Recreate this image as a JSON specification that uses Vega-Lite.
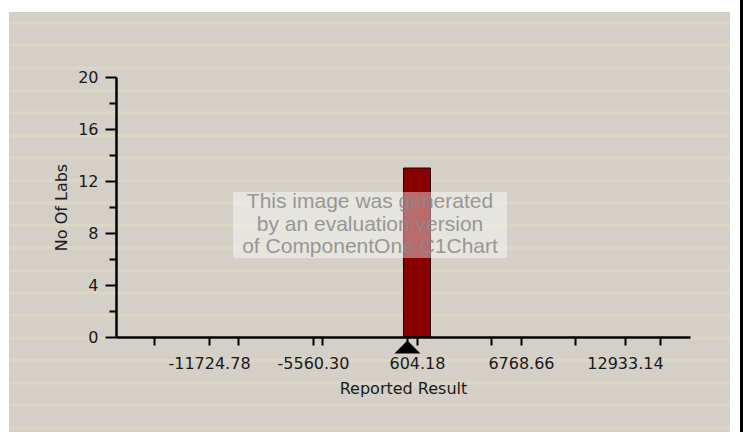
{
  "$schema": "https://vega.github.io/schema/vega-lite/v6.json",
  "width": 574,
  "height": 260,
  "autosize": {"type": "none"},
  "padding": {"left": 116, "top": 77, "right": 56, "bottom": 95},
  "background": "#ffffff",
  "config": {
    "view": {"stroke": null},
    "font": "DejaVu Sans"
  },
  "datasets": {
    "panel": [{"x": -23581, "x2": 19160, "y": 25, "y2": -7.5}],
    "stripes": [
      {"x": -23581, "x2": 19160, "y": 24.15},
      {"x": -23581, "x2": 19160, "y": 22.42},
      {"x": -23581, "x2": 19160, "y": 20.69},
      {"x": -23581, "x2": 19160, "y": 18.96},
      {"x": -23581, "x2": 19160, "y": 17.23},
      {"x": -23581, "x2": 19160, "y": 15.5},
      {"x": -23581, "x2": 19160, "y": 13.77},
      {"x": -23581, "x2": 19160, "y": 12.04},
      {"x": -23581, "x2": 19160, "y": 10.31},
      {"x": -23581, "x2": 19160, "y": 8.58},
      {"x": -23581, "x2": 19160, "y": 6.85},
      {"x": -23581, "x2": 19160, "y": 5.12},
      {"x": -23581, "x2": 19160, "y": 3.38},
      {"x": -23581, "x2": 19160, "y": 1.65},
      {"x": -23581, "x2": 19160, "y": -0.08},
      {"x": -23581, "x2": 19160, "y": -1.81},
      {"x": -23581, "x2": 19160, "y": -3.54},
      {"x": -23581, "x2": 19160, "y": -5.27},
      {"x": -23581, "x2": 19160, "y": -7.0}
    ],
    "bars": [{"x": -196, "x2": 1404, "y": 13, "y2": 0}],
    "box": [{"x": -10302, "x2": 5941, "y": 11.15, "y2": 6.08}],
    "wm": [
      {"x": -2181, "y": 10.4, "label": "This image was generated"},
      {"x": -2181, "y": 8.6, "label": "by an evaluation version"},
      {"x": -2181, "y": 6.95, "label": "of ComponentOne C1Chart"}
    ],
    "marker": [{"x": 40, "y": -0.77}],
    "border": [{"x": 19842, "y": 26, "y2": -7.5}]
  },
  "encoding": {
    "x": {
      "field": "x",
      "type": "quantitative",
      "title": "Reported Result",
      "scale": {"domain": [-17238, 16789], "nice": false, "zero": false},
      "axis": {
        "values": [-15000, -11724.78, -10000, -5560.30, -5000, 0, 604.18, 5000, 6768.66, 10000, 12933.14, 15000],
        "labelExpr": "abs(datum.value % 5000) > 1 ? (datum.value < 0 ? '-' : '') + format(abs(datum.value), '.2f') : ''",
        "grid": false,
        "zindex": 1,
        "domainColor": "#000000",
        "domainWidth": 2.5,
        "tickColor": "#000000",
        "tickWidth": 2,
        "tickSize": 8,
        "labelPadding": 10,
        "labelFont": "DejaVu Sans",
        "labelFontSize": 16,
        "labelColor": "#1a1a1a",
        "labelFlush": false,
        "labelOverlap": false,
        "titleFont": "DejaVu Sans",
        "titleFontSize": 16,
        "titleFontWeight": "normal",
        "titleColor": "#1a1a1a",
        "titlePadding": 9
      }
    },
    "y": {
      "field": "y",
      "type": "quantitative",
      "title": "No Of Labs",
      "scale": {"domain": [0, 20], "nice": false, "zero": false},
      "axis": {
        "values": [0, 2, 4, 6, 8, 10, 12, 14, 16, 18, 20],
        "labelExpr": "datum.value % 4 === 0 ? datum.label : ''",
        "grid": false,
        "zindex": 1,
        "domainColor": "#000000",
        "domainWidth": 2.5,
        "tickColor": "#000000",
        "tickWidth": 2,
        "tickSize": {"condition": {"test": "datum.value % 4 === 0", "value": 11}, "value": 7},
        "labelPadding": 7,
        "labelFont": "DejaVu Sans",
        "labelFontSize": 16,
        "labelColor": "#1a1a1a",
        "labelOverlap": false,
        "titleFont": "DejaVu Sans",
        "titleFontSize": 16,
        "titleFontWeight": "normal",
        "titleColor": "#1a1a1a",
        "titlePadding": 8
      }
    }
  },
  "layer": [
    {
      "data": {"name": "panel"},
      "mark": {"type": "rect", "fill": "#d4d0c8", "clip": false},
      "encoding": {"x2": {"field": "x2"}, "y2": {"field": "y2"}}
    },
    {
      "data": {"name": "stripes"},
      "mark": {"type": "rule", "stroke": "#dbd7c4", "strokeWidth": 3, "clip": false},
      "encoding": {"x2": {"field": "x2"}}
    },
    {
      "data": {"name": "bars"},
      "mark": {"type": "rect", "fill": "#880000", "stroke": "#2a0000", "strokeWidth": 1},
      "encoding": {"x2": {"field": "x2"}, "y2": {"field": "y2"}}
    },
    {
      "data": {"name": "box"},
      "mark": {"type": "rect", "fill": "#ffffff", "fillOpacity": 0.42},
      "encoding": {"x2": {"field": "x2"}, "y2": {"field": "y2"}}
    },
    {
      "data": {"name": "wm"},
      "mark": {"type": "text", "font": "Liberation Sans", "fontSize": 21, "fill": "#8a8a8a", "opacity": 0.85, "baseline": "middle", "align": "center"},
      "encoding": {"text": {"field": "label"}}
    },
    {
      "data": {"name": "marker"},
      "mark": {"type": "point", "shape": "M-1,0.5L1,0.5L0,-0.5Z", "size": 676, "filled": true, "fill": "#000000", "opacity": 1, "clip": false},
      "encoding": {}
    },
    {
      "data": {"name": "border"},
      "mark": {"type": "rule", "stroke": "#000000", "strokeWidth": 3, "clip": false},
      "encoding": {"y2": {"field": "y2"}}
    }
  ]
}
